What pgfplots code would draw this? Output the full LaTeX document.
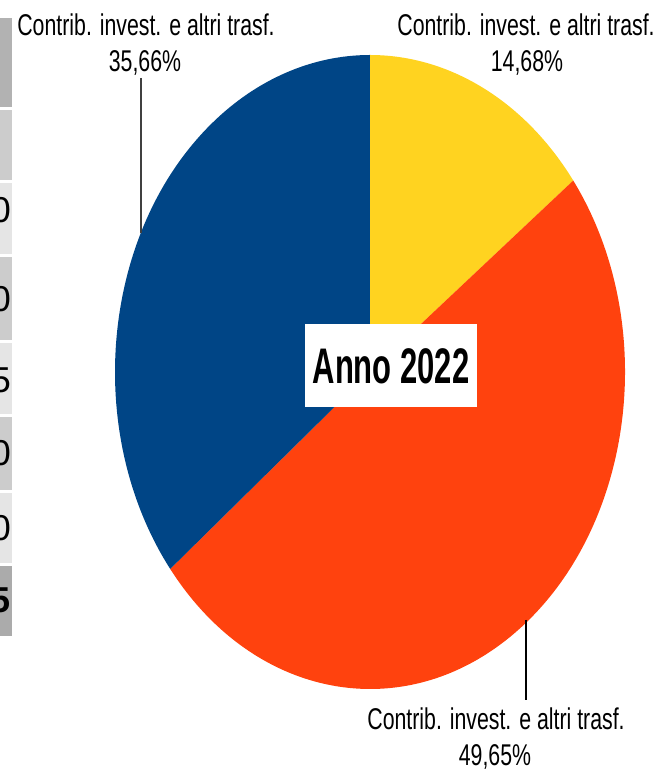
\documentclass[border=0pt]{standalone}
\usepackage{fontspec}
\setmainfont{Liberation Sans}
\newfontfamily\lblfont{Liberation Sans}[FakeStretch=0.71]
\newfontfamily\titlefont{Liberation Sans Bold}[FakeStretch=0.62]
\usepackage{pgfplots}
\pgfplotsset{compat=1.18}

\definecolor{cblue}{HTML}{004586}
\definecolor{cred}{HTML}{FF420E}
\definecolor{cyellow}{HTML}{FFD320}

% quote percentuali
\def\pYellow{14.68}
\def\pRed{49.65}
\def\pBlue{35.66}

\begin{document}
\begin{tikzpicture}
\pgfmathsetmacro\aA{90}
\pgfmathsetmacro\aB{\aA-3.6*\pYellow}
\pgfmathsetmacro\aC{\aB-3.6*\pRed}
\pgfmathsetmacro\aD{\aC-3.6*\pBlue}
\begin{axis}[
  hide axis, scale only axis,
  width=657bp, height=769bp,
  xmin=0, xmax=657, ymin=0, ymax=769,
  clip=false,
]
% striscia grigia a sinistra (tabella tagliata)
\fill[black!30] (axis cs:0,751) rectangle (axis cs:12,662);
\fill[black!20] (axis cs:0,659) rectangle (axis cs:12,589);
\fill[black!10] (axis cs:0,586) rectangle (axis cs:12,515);
\fill[black!20] (axis cs:0,512) rectangle (axis cs:12,429);
\fill[black!10] (axis cs:0,426) rectangle (axis cs:12,355);
\fill[black!20] (axis cs:0,352) rectangle (axis cs:12,279);
\fill[black!10] (axis cs:0,276) rectangle (axis cs:12,206);
\fill[black!33] (axis cs:0,203) rectangle (axis cs:12,133);
\begin{scope}
\clip (axis cs:0,0) rectangle (axis cs:12,769);
\node[anchor=east,inner sep=0pt,font=\fontsize{36bp}{36bp}\selectfont] at (axis cs:11,559) {0};
\node[anchor=east,inner sep=0pt,font=\fontsize{36bp}{36bp}\selectfont] at (axis cs:11,470) {0};
\node[anchor=east,inner sep=0pt,font=\fontsize{36bp}{36bp}\selectfont] at (axis cs:11,389) {5};
\node[anchor=east,inner sep=0pt,font=\fontsize{36bp}{36bp}\selectfont] at (axis cs:11,316) {0};
\node[anchor=east,inner sep=0pt,font=\fontsize{36bp}{36bp}\selectfont] at (axis cs:11,241) {0};
\node[anchor=east,inner sep=0pt,font=\fontsize{36bp}{36bp}\selectfont\bfseries] at (axis cs:11,169) {5};
\end{scope}

% torta (ellisse)
\fill[cyellow] (axis cs:370,397) -- ++({255bp*cos(\aA)},{317bp*sin(\aA)})
  arc[start angle=\aA, end angle=\aB, x radius=255bp, y radius=317bp] -- cycle;
\fill[cred] (axis cs:370,397) -- ++({255bp*cos(\aB)},{317bp*sin(\aB)})
  arc[start angle=\aB, end angle=\aC, x radius=255bp, y radius=317bp] -- cycle;
\fill[cblue] (axis cs:370,397) -- ++({255bp*cos(\aC)},{317bp*sin(\aC)})
  arc[start angle=\aC, end angle=\aD, x radius=255bp, y radius=317bp] -- cycle;

% linee guida
\draw[black!75, line width=1.2bp] (axis cs:141,691) -- (axis cs:141,536);
\draw[black, line width=1.2bp] (axis cs:526,149) -- (axis cs:526,69);

% etichette
\begin{scope}[every node/.style={inner sep=0pt, font=\lblfont\fontsize{30bp}{36bp}\selectfont}]
\node[anchor=base] at (axis cs:146,733) {Contrib. invest. e altri trasf.};
\node[anchor=base] at (axis cs:145,697) {35,66\%};
\node[anchor=base] at (axis cs:526,733) {Contrib. invest. e altri trasf.};
\node[anchor=base] at (axis cs:527,697) {14,68\%};
\node[anchor=base] at (axis cs:496,39) {Contrib. invest. e altri trasf.};
\node[anchor=base] at (axis cs:495,4) {49,65\%};
\end{scope}

% titolo
\fill[white] (axis cs:305,362) rectangle (axis cs:477,445);
\node[anchor=base, inner sep=0pt, font=\titlefont\fontsize{50bp}{50bp}\selectfont] at (axis cs:391,385) {Anno 2022};
\end{axis}
\pgfresetboundingbox
\useasboundingbox (0,0) rectangle (657bp,769bp);
\end{tikzpicture}
\end{document}
